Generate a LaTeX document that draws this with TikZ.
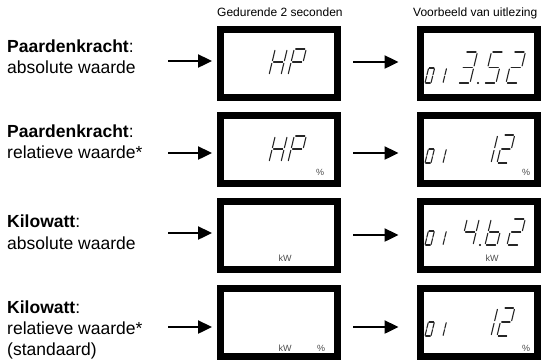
\documentclass[tikz,border=0pt]{standalone}
\usepackage{fontspec}
\setmainfont{Liberation Sans}
\usetikzlibrary{arrows.meta}
\def\lcdsega{(0.12,1)--(0.88,1)}
\def\lcdsegb{(1,0.95)--(1,0.55)}
\def\lcdsegc{(1,0.45)--(1,0.05)}
\def\lcdsegd{(0.12,0)--(0.88,0)}
\def\lcdsege{(0,0.45)--(0,0.05)}
\def\lcdsegf{(0,0.95)--(0,0.55)}
\def\lcdsegg{(0.12,0.5)--(0.88,0.5)}
% #1 x, #2 bottom y, #3 width, #4 height, #5 segments
\newcommand\lcd[5]{%
  \begin{scope}[shift={(#1,#2)}, x={(#3pt,0pt)}, y={(0.24*#4 pt,#4 pt)}]
    \foreach \s in {#5}{%
      \edef\lcdtmp{\noexpand\draw[lcdstroke] \csname lcdseg\s\endcsname;}\lcdtmp}
  \end{scope}}
\newcommand\lcddot[2]{\fill[black] (#1,#2) circle (1.1);}
\begin{document}
\begin{tikzpicture}[x=1pt,y=-1pt,
  lcdbox/.style={draw=black, line width=7pt, minimum width=117pt, minimum height=68pt, inner sep=0pt, fill=white},
  lcdstroke/.style={line width=1.1pt, line cap=round, black!85},
  arr/.style={line width=2.4pt, -{Triangle[length=14pt,width=13pt]}},
  lbl/.style={anchor=base west, inner sep=0pt, font=\fontsize{17.5}{20}\selectfont},
  hdr/.style={anchor=base west, inner sep=0pt, font=\fontsize{12}{14}\selectfont},
  unit/.style={inner sep=0pt, text=black!70, font=\fontsize{9}{10}\selectfont}]
\useasboundingbox (0,0) rectangle (553,360);

% headers
\node[hdr] (h1) at (217,16) {Gedurende 2 seconden};
\node[hdr] (h2) at (413,16) {Voorbeeld van uitlezing};

% labels
\node[lbl] (t1a) at (7,52) {\textbf{Paardenkracht}:};
\node[lbl] (t1b) at (7,73) {absolute waarde};
\node[lbl] (t2a) at (7,137) {\textbf{Paardenkracht}:};
\node[lbl] (t2b) at (7,158) {relatieve waarde*};
\node[lbl] (t3a) at (7,227) {\textbf{Kilowatt}:};
\node[lbl] (t3b) at (7,249) {absolute waarde};
\node[lbl] (t4a) at (7,313) {\textbf{Kilowatt}:};
\node[lbl] (t4b) at (7,334) {relatieve waarde*};
\node[lbl] (t4c) at (7,355) {(standaard)};

% boxes
\node[lcdbox] (m1) at (279,63) {};
\node[lcdbox] (m2) at (279,149.5) {};
\node[lcdbox] (m3) at (279,235.5) {};
\node[lcdbox] (m4) at (279,322) {};
\node[lcdbox] (r1) at (478.5,63) {};
\node[lcdbox] (r2) at (478.5,149.5) {};
\node[lcdbox] (r3) at (478.5,235.5) {};
\node[lcdbox] (r4) at (478.5,322) {};

% arrows
\coordinate (a1) at (168,61);
\coordinate (a2) at (168,153);
\coordinate (a3) at (168,233);
\coordinate (a4) at (168,327);
\coordinate (b1) at (353,62);
\coordinate (b2) at (353,153);
\coordinate (b3) at (353,235);
\coordinate (b4) at (353,327);
\foreach \i in {1,2,3,4}{
  \draw[arr, shorten >=5pt] (a\i) -- (a\i -| m\i.west);
  \draw[arr, shorten >=18pt] (b\i) -- (b\i -| r\i.west);
}

% row 1
\lcd{269}{75}{12}{26}{b,c,e,f,g}
\lcd{288}{75}{12}{26}{a,b,f,g,e}
\lcd{425}{83}{6}{15}{a,b,c,d,e,f}
\lcd{437}{83}{6}{15}{b,c}
\lcd{458}{83}{12}{31}{a,b,c,d,g}
\lcddot{478}{83}
\lcd{484}{83}{12}{31}{a,f,g,c,d}
\lcd{506}{83}{12}{31}{a,b,g,e,d}

% row 2
\lcd{269}{162}{12}{26}{b,c,e,f,g}
\lcd{288}{162}{12}{26}{a,b,f,g,e}
\node[unit] (u2m) at (320,172) {\%};
\lcd{425}{163}{6}{14}{a,b,c,d,e,f}
\lcd{437}{163}{6}{14}{b,c}
\lcd{480}{163}{11}{28}{b,c}
\lcd{497}{163}{11}{28}{a,b,g,e,d}
\node[unit] (u2r) at (526,172) {\%};

% row 3
\node[unit] (u3m) at (285,258) {kW};
\lcd{425}{245}{6}{14}{a,b,c,d,e,f}
\lcd{437}{245}{6}{14}{b,c}
\lcd{461}{245}{12}{26}{f,g,b,c}
\lcddot{480}{245}
\lcd{485}{245}{12}{26}{f,e,g,c,d}
\lcd{507}{245}{12}{26}{a,b,g,e,d}
\node[unit] (u3r) at (492,258) {kW};

% row 4
\node[unit] (u4m) at (285,348) {kW};
\node[unit] (u4p) at (321,348) {\%};
\lcd{425}{336}{6}{14}{a,b,c,d,e,f}
\lcd{437}{336}{6}{14}{b,c}
\lcd{480}{336}{11}{28}{b,c}
\lcd{497}{336}{11}{28}{a,b,g,e,d}
\node[unit] (u4r) at (526,348) {\%};
\end{tikzpicture}
\end{document}
